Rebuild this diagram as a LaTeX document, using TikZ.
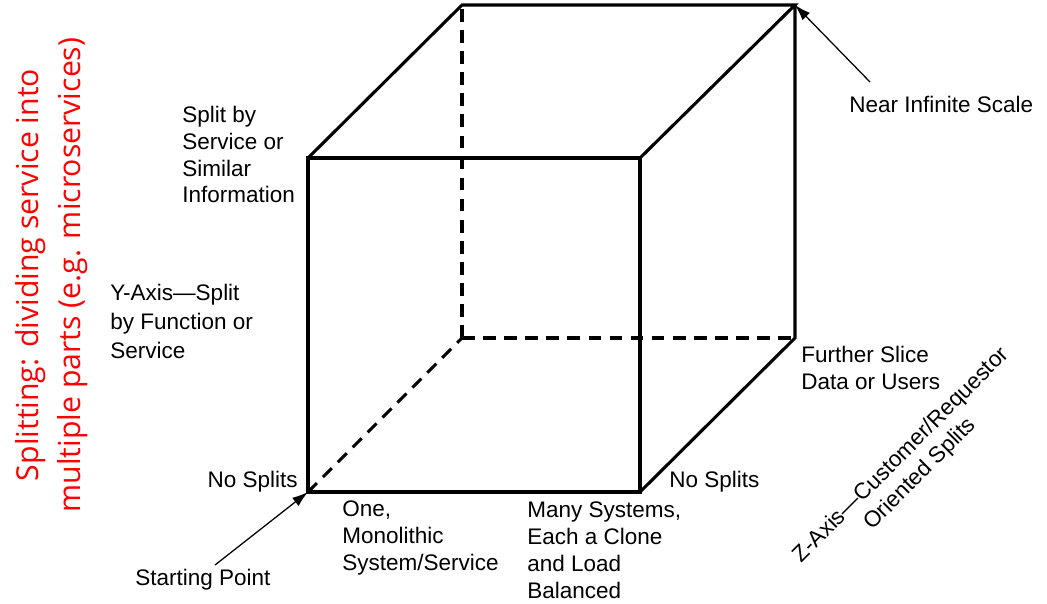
\documentclass[tikz,border=0pt]{standalone}
\usepackage{fontspec}
\setmainfont{Liberation Sans}
\newfontfamily\notefont{Open Sans}
\usepackage{tikz}
\usetikzlibrary{positioning, arrows.meta}

\tikzset{
    edge/.style={line width=2.2pt},
    hidden/.style={line width=2.2pt, dash pattern=on 9pt off 6pt},
    lbl/.style={inner sep=0pt, align=left, font=\fontsize{16}{19}\selectfont},
    pointer/.style={line width=0.9pt, -{Latex[length=4mm,width=2.6mm]}}
}

\begin{document}
\begin{tikzpicture}[x=0.025cm, y=-0.025cm]
    \useasboundingbox (0,0) rectangle (1047,604);

    % Front face
    \coordinate (ftl) at (308,158);
    \coordinate (ftr) at (640,158);
    \coordinate (fbr) at (640,492);
    \coordinate (fbl) at (308,492);
    % Back face
    \coordinate (btl) at (462,5);
    \coordinate (btr) at (795,5);
    \coordinate (bbr) at (795,338);
    \coordinate (bbl) at (462,338);

    % Visible edges
    \draw[edge] (fbl) -- (ftl) -- (ftr) -- (fbr) -- cycle;
    \draw[edge] (ftl) -- (btl) -- (btr) -- (ftr);
    \draw[edge] (btr) -- (bbr) -- (fbr);

    % Hidden edges
    \draw[hidden] (fbl) -- (bbl);
    \draw[hidden] (bbl) -- (btl);
    \draw[hidden] (bbl) -- (bbr);

    % Labels
    \node[lbl, anchor=north west] (split) at (182,106) {Split by\\Service or\\Similar\\Information};
    \node[lbl, anchor=north west, font=\fontsize{16}{20.5}\selectfont] (yaxis) at (110,284) {Y-Axis---Split\\by Function or\\Service};
    \node[lbl, anchor=east] (nosplitl) at (298,482) {No Splits};
    \node[lbl, anchor=west] (nosplitr) at (669,482) {No Splits};
    \node[lbl, anchor=north west] (mono) at (342,501) {One,\\Monolithic\\System/Service};
    \node[lbl, anchor=north west] (clone) at (527,502) {Many Systems,\\Each a Clone\\and Load\\Balanced};
    \node[lbl, anchor=north west] (slice) at (801,346) {Further Slice\\Data or Users};
    \node[lbl, anchor=west] (scale) at (849,104) {Near Infinite Scale};
    \node[lbl, anchor=west] (start) at (135,580) {Starting Point};
    \node[lbl, align=center, rotate=45] (zaxis) at (911,465) {Z-Axis---Customer/Requestor\\Oriented Splits};

    % Side note
    \node[inner sep=0pt, align=center, rotate=90, text=red,
          font=\notefont\fontsize{21.5}{30}\selectfont] (note) at (52,275)
          {Splitting: dividing service into\\multiple parts (e.g. microservices)};

    % Pointers
    \coordinate (startfoot) at (215,565);
    \coordinate (scalefoot) at (870,82);
    \draw[pointer] (startfoot) -- (fbl);
    \draw[pointer] (scalefoot) -- (btr);
\end{tikzpicture}
\end{document}
